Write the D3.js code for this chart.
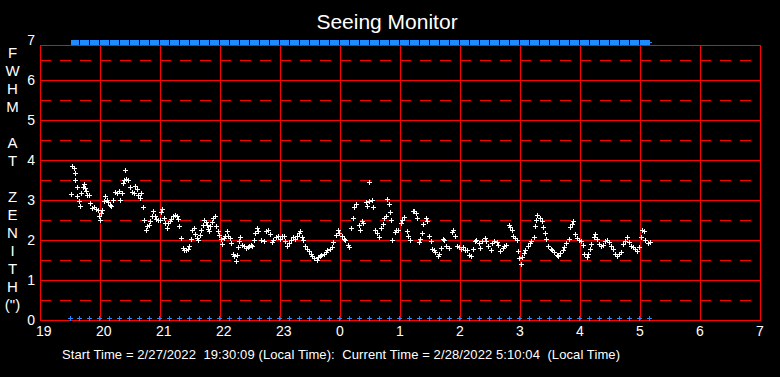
<!DOCTYPE html>
<html>
<head>
<meta charset="utf-8">
<script src="https://cdn.jsdelivr.net/npm/d3@7"></script>
<style>
  body { margin: 0; background: #000; }
  svg { display: block; font-family: "Liberation Sans", Arial, sans-serif; }
  text { fill: #fff; }
</style>
</head>
<body>
<svg id="chart" width="780" height="377"></svg>
<script>
// Hours since midnight of the start day (values past 24 are after midnight)
const hours = [
  19.52, 19.54, 19.56, 19.58, 19.59, 19.61, 19.62, 19.65, 19.67, 19.69, 19.71, 19.73, 19.75, 19.77, 19.79, 19.82,
  19.84, 19.87, 19.90, 19.93, 19.96, 19.98, 20.00, 20.01, 20.04, 20.07, 20.09, 20.11, 20.14, 20.17, 20.19, 20.22,
  20.25, 20.28, 20.31, 20.33, 20.36, 20.38, 20.40, 20.42, 20.44, 20.47, 20.50, 20.53, 20.56, 20.58, 20.61, 20.64,
  20.67, 20.69, 20.71, 20.74, 20.77, 20.79, 20.81, 20.83, 20.86, 20.89, 20.92, 20.94, 20.97, 21.00, 21.02, 21.04,
  21.07, 21.09, 21.12, 21.14, 21.17, 21.19, 21.22, 21.25, 21.28, 21.30, 21.32, 21.35, 21.38, 21.40, 21.43, 21.46,
  21.48, 21.51, 21.54, 21.57, 21.59, 21.62, 21.64, 21.67, 21.69, 21.71, 21.73, 21.76, 21.78, 21.80, 21.82, 21.84,
  21.87, 21.89, 21.92, 21.94, 21.97, 21.99, 22.01, 22.03, 22.06, 22.08, 22.11, 22.13, 22.16, 22.19, 22.22, 22.24,
  22.26, 22.28, 22.30, 22.32, 22.34, 22.37, 22.40, 22.43, 22.46, 22.48, 22.51, 22.54, 22.56, 22.58, 22.61, 22.64,
  22.69, 22.73, 22.76, 22.80, 22.83, 22.86, 22.89, 22.93, 22.96, 23.00, 23.03, 23.06, 23.09, 23.12, 23.15, 23.18,
  23.22, 23.25, 23.28, 23.32, 23.34, 23.37, 23.39, 23.42, 23.45, 23.48, 23.51, 23.54, 23.57, 23.61, 23.63, 23.66,
  23.69, 23.73, 23.76, 23.79, 23.83, 23.86, 23.89, 23.93, 23.96, 23.99, 24.03, 24.06, 24.09, 24.13, 24.15, 24.18,
  24.21, 24.24, 24.27, 24.31, 24.33, 24.36, 24.39, 24.43, 24.45, 24.48, 24.49, 24.53, 24.55, 24.58, 24.62, 24.65,
  24.68, 24.71, 24.73, 24.76, 24.78, 24.81, 24.83, 24.85, 24.87, 24.91, 24.94, 24.97, 25.01, 25.04, 25.07, 25.11,
  25.14, 25.17, 25.21, 25.24, 25.26, 25.28, 25.32, 25.34, 25.37, 25.39, 25.43, 25.45, 25.48, 25.51, 25.53, 25.56,
  25.59, 25.63, 25.65, 25.68, 25.71, 25.74, 25.77, 25.81, 25.86, 25.88, 25.92, 25.95, 25.98, 26.02, 26.05, 26.08,
  26.12, 26.15, 26.18, 26.22, 26.25, 26.27, 26.31, 26.34, 26.37, 26.41, 26.44, 26.47, 26.51, 26.54, 26.57, 26.61,
  26.64, 26.67, 26.71, 26.74, 26.77, 26.81, 26.84, 26.86, 26.89, 26.92, 26.95, 26.97, 26.99, 27.01, 27.04, 27.06,
  27.09, 27.13, 27.16, 27.19, 27.23, 27.25, 27.27, 27.29, 27.33, 27.36, 27.39, 27.42, 27.44, 27.47, 27.51, 27.54,
  27.57, 27.61, 27.64, 27.67, 27.71, 27.74, 27.77, 27.81, 27.83, 27.86, 27.88, 27.92, 27.95, 27.98, 28.02, 28.05,
  28.07, 28.11, 28.14, 28.16, 28.19, 28.23, 28.25, 28.28, 28.32, 28.35, 28.38, 28.42, 28.45, 28.48, 28.52, 28.55,
  28.58, 28.62, 28.65, 28.68, 28.72, 28.75, 28.78, 28.82, 28.85, 28.88, 28.92, 28.95, 28.98, 29.02, 29.04, 29.06,
  29.09, 29.13, 29.16
];

// FWHM at zenith (arcsec), one per entry in hours
const fwhm = [
  3.15, 3.84, 3.80, 3.68, 3.51, 3.33, 3.11, 2.97, 2.86, 3.18, 3.33, 3.41, 3.30, 3.22, 3.13, 3.13,
  2.93, 2.80, 2.83, 2.78, 2.76, 2.61, 2.51, 2.68, 2.76, 2.97, 3.09, 3.00, 2.94, 2.88, 2.84, 3.00,
  3.19, 3.17, 3.22, 3.00, 3.17, 3.43, 3.51, 3.74, 3.52, 3.49, 3.33, 3.19, 3.17, 3.36, 3.28, 3.13,
  3.05, 3.17, 2.83, 2.51, 2.26, 2.34, 2.38, 2.47, 2.59, 2.72, 2.59, 2.53, 2.51, 2.51, 2.69, 2.78,
  2.55, 2.43, 2.30, 2.43, 2.47, 2.53, 2.59, 2.63, 2.59, 2.53, 2.34, 2.05, 1.80, 1.74, 1.76, 1.78,
  1.84, 2.03, 2.26, 2.30, 2.16, 2.05, 1.99, 2.13, 2.26, 2.38, 2.51, 2.44, 2.38, 2.28, 2.22, 2.34,
  2.44, 2.55, 2.59, 2.34, 2.22, 2.13, 2.03, 1.91, 2.05, 2.11, 2.22, 2.09, 2.05, 1.93, 1.66, 1.61,
  1.48, 1.63, 1.83, 1.97, 2.08, 1.88, 1.84, 1.80, 1.83, 1.84, 1.88, 1.84, 2.01, 2.18, 2.30, 2.22,
  2.01, 1.97, 2.22, 2.26, 2.16, 1.94, 1.99, 2.08, 2.11, 2.03, 2.09, 2.11, 1.97, 1.84, 1.93, 2.01,
  2.08, 2.03, 2.09, 2.18, 2.22, 2.08, 1.99, 1.84, 1.78, 1.72, 1.66, 1.61, 1.55, 1.51, 1.58, 1.61,
  1.63, 1.66, 1.69, 1.74, 1.78, 1.83, 1.94, 2.13, 2.26, 2.18, 2.11, 2.03, 1.99, 1.88, 1.83, 2.30,
  2.55, 2.83, 2.91, 2.38, 2.26, 2.47, 2.43, 2.94, 2.84, 3.45, 2.97, 2.99, 2.83, 2.24, 2.18, 2.08,
  2.30, 2.41, 2.55, 2.59, 3.03, 2.89, 2.69, 2.49, 1.99, 2.19, 2.24, 2.26, 2.43, 2.51, 2.58, 2.22,
  2.11, 1.99, 2.72, 2.72, 2.68, 2.55, 1.94, 2.03, 2.18, 2.41, 2.55, 2.47, 2.11, 1.97, 1.78, 1.74,
  1.69, 1.61, 1.66, 1.79, 2.03, 1.99, 1.84, 1.80, 2.19, 2.26, 2.11, 1.86, 1.83, 1.78, 1.83, 1.74,
  1.76, 1.63, 1.61, 1.78, 1.97, 1.99, 1.93, 1.80, 1.97, 2.05, 1.97, 1.84, 1.76, 1.93, 1.97, 1.94,
  1.88, 1.72, 1.80, 1.86, 1.88, 2.38, 2.33, 2.26, 2.11, 2.05, 2.01, 1.72, 1.55, 1.41, 1.58, 1.68,
  1.76, 1.86, 1.93, 1.97, 2.08, 2.36, 2.51, 2.63, 2.55, 2.47, 2.33, 2.18, 2.03, 1.84, 1.78, 1.74,
  1.69, 1.63, 1.61, 1.68, 1.74, 1.83, 1.93, 2.03, 2.33, 2.41, 2.47, 2.16, 2.05, 2.01, 1.97, 1.88,
  1.66, 1.58, 1.66, 1.78, 1.91, 2.08, 2.16, 2.03, 1.91, 1.84, 1.88, 1.97, 1.99, 1.94, 1.86, 1.78,
  1.66, 1.61, 1.66, 1.69, 1.91, 1.97, 2.08, 1.94, 1.86, 1.83, 1.78, 1.72, 1.83, 2.08, 2.26, 2.22,
  2.01, 1.93, 1.94
];

// Clock times of the status markers (blue crosses along the bottom / blue bar at the top)
const markerTimes = [
  '19:30', '19:39', '19:49', '19:59', '20:09', '20:19', '20:29', '20:39', '20:49', '20:59',
  '21:09', '21:19', '21:29', '21:39', '21:49', '21:59', '22:09', '22:19', '22:29', '22:39',
  '22:49', '22:59', '23:09', '23:19', '23:29', '23:39', '23:49', '23:59', '0:09', '0:19',
  '0:29', '0:39', '0:49', '0:59', '1:09', '1:19', '1:29', '1:39', '1:49', '1:59',
  '2:09', '2:19', '2:29', '2:39', '2:49', '2:59', '3:09', '3:19', '3:29', '3:39',
  '3:49', '3:59', '4:09', '4:19', '4:29', '4:39', '4:49', '4:59', '5:09'
];

const hourTicks = [19, 20, 21, 22, 23, 24, 25, 26, 27, 28, 29, 30, 31];
const yTicks = [0, 1, 2, 3, 4, 5, 6, 7];
const yHalfTicks = [0.5, 1.5, 2.5, 3.5, 4.5, 5.5, 6.5];
const yLabelLetters = ['F', 'W', 'H', 'M', '', 'A', 'T', '', 'Z', 'E', 'N', 'I', 'T', 'H', '(")'];

const titleText = 'Seeing Monitor';
const footerText = 'Start Time = 2/27/2022  19:30:09 (Local Time):  Current Time = 2/28/2022 5:10:04  (Local Time)';

const svg = d3.select('#chart');
svg.append('rect').attr('width', 780).attr('height', 377).attr('fill', '#000');

const plotLeft = 40, plotRight = 760, plotTop = 45, plotBottom = 320;

const x = d3.scaleLinear().domain([19, 31]).range([plotLeft, plotRight]);
const y = d3.scaleLinear().domain([0, 7]).range([plotBottom, 40]);

const red = '#ff0000';
const blue = '#1e8cff';

// parse 'h:mm' into hours on the continuous axis
const toHours = s => {
  let [h, m] = s.split(':').map(Number);
  if (h < 12) h += 24;
  return h + m / 60;
};
const markers = markerTimes.map(toHours);

const grid = svg.append('g').attr('shape-rendering', 'crispEdges');

// dashed half-unit lines
grid.selectAll('.half')
  .data(yHalfTicks)
  .join('line')
  .attr('x1', plotLeft).attr('x2', plotRight)
  .attr('y1', d => Math.round(y(d)) + 0.5)
  .attr('y2', d => Math.round(y(d)) + 0.5)
  .attr('stroke', red)
  .attr('stroke-dasharray', '11,9');

// solid unit lines
grid.selectAll('.whole')
  .data(yTicks.filter(d => d > 0 && d < 7))
  .join('line')
  .attr('x1', plotLeft).attr('x2', plotRight)
  .attr('y1', d => Math.round(y(d)) + 0.5)
  .attr('y2', d => Math.round(y(d)) + 0.5)
  .attr('stroke', red);

// vertical hour lines
grid.selectAll('.vert')
  .data(hourTicks)
  .join('line')
  .attr('x1', d => Math.round(x(d)) + 0.5)
  .attr('x2', d => Math.round(x(d)) + 0.5)
  .attr('y1', plotTop).attr('y2', plotBottom)
  .attr('stroke', red);

// plot frame
grid.append('rect')
  .attr('x', plotLeft + 0.5).attr('y', plotTop + 0.5)
  .attr('width', plotRight - plotLeft).attr('height', plotBottom - plotTop)
  .attr('fill', 'none')
  .attr('stroke', red);

// Title
svg.append('text')
  .attr('x', 387)
  .attr('y', 29)
  .attr('text-anchor', 'middle')
  .attr('font-size', 21)
  .text(titleText);

// Y axis tick labels
svg.selectAll('.ylab')
  .data(yTicks)
  .join('text')
  .attr('x', 35)
  .attr('y', d => y(d))
  .attr('dy', '0.36em')
  .attr('text-anchor', 'end')
  .attr('font-size', 14)
  .text(d => d);

// X axis tick labels (clock hours)
svg.selectAll('.xlab')
  .data(hourTicks)
  .join('text')
  .attr('x', d => x(d) - 4)
  .attr('y', 336)
  .attr('font-size', 14)
  .text(d => d % 24);

// Vertical axis title, one letter per line
svg.selectAll('.ytitle')
  .data(yLabelLetters)
  .join('text')
  .attr('x', 12.5)
  .attr('y', (d, i) => 53 + i * 18)
  .attr('dy', '0.36em')
  .attr('text-anchor', 'middle')
  .attr('font-size', 15)
  .text(d => d);

// Footer
svg.append('text')
  .attr('x', 62)
  .attr('y', 359)
  .attr('font-size', 13)
  .attr('textLength', 558)
  .attr('lengthAdjust', 'spacing')
  .style('white-space', 'pre')
  .text(footerText);

// plus-shaped marker path centred on a pixel
const plus = (cx, cy, r) => {
  const px = Math.round(cx) + 0.5, py = Math.round(cy) + 0.5;
  return `M${px - r},${py}H${px + r}M${px},${py - r}V${py + r}`;
};

// blue status bar along the top
const bar = svg.append('g').attr('shape-rendering', 'crispEdges');
bar.selectAll('rect')
  .data(markers.slice(0, -1))
  .join('rect')
  .attr('x', (d, i) => Math.round(x(d)) + 1)
  .attr('y', 40)
  .attr('width', (d, i) => Math.round(x(markers[i + 1])) - Math.round(x(d)) - 1)
  .attr('height', 5)
  .attr('fill', blue);
bar.append('path')
  .attr('d', plus(x(markers[markers.length - 1]), 42, 2.5))
  .attr('stroke', blue);

// blue crosses along the bottom
svg.append('g')
  .selectAll('path')
  .data(markers)
  .join('path')
  .attr('d', d => plus(x(d), 318, 2.5))
  .attr('stroke', blue)
  .attr('shape-rendering', 'crispEdges');

// FWHM measurements
svg.append('g')
  .selectAll('path')
  .data(hours.map((h, i) => [h, fwhm[i]]))
  .join('path')
  .attr('d', d => plus(x(d[0]), y(d[1]), 2.5))
  .attr('stroke', '#fff')
  .attr('shape-rendering', 'crispEdges');
</script>
</body>
</html>
